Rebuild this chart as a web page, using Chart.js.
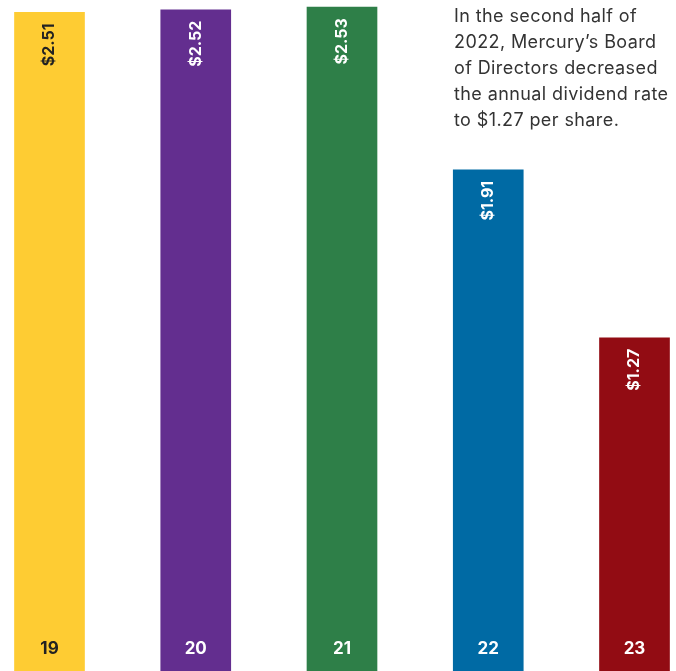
<!DOCTYPE html>
<html>
<head>
<meta charset="utf-8">
<script src="https://cdn.jsdelivr.net/npm/chart.js@4"></script>
<style>
  html, body { margin: 0; padding: 0; background: #fff; }
  .wrap { position: relative; width: 676px; height: 671px; }
  #dividendChart { position: absolute; left: 0; top: 0; }
  .note {
    position: absolute; left: 454px; top: 3px; width: 222px;
    font-family: "Inter", "Lato", sans-serif; font-size: 18px; line-height: 26px;
    color: #333; letter-spacing: 0.4px; white-space: nowrap;
  }
</style>
</head>
<body>
<div class="wrap">
  <canvas id="dividendChart" width="676" height="671"></canvas>
  <div class="note">In the second half of<br>2022, Mercury’s Board<br>of Directors decreased<br>the annual dividend rate<br>to $1.27 per share.</div>
</div>
<script>
const years = ['19', '20', '21', '22', '23'];
const dividends = [2.51, 2.52, 2.53, 1.91, 1.27];
const barColors = ['#FECC33', '#632E8F', '#2E7F48', '#006AA4', '#920C13'];
const textColors = ['#222222', '#ffffff', '#ffffff', '#ffffff', '#ffffff'];

const barLabels = {
  id: 'barLabels',
  afterDatasetsDraw(chart) {
    const ctx = chart.ctx;
    const meta = chart.getDatasetMeta(0);
    meta.data.forEach(function(bar, i) {
      ctx.save();
      ctx.fillStyle = textColors[i];
      // value, rotated, near the top of the bar
      ctx.translate(bar.x, bar.y + 11);
      ctx.rotate(-Math.PI / 2);
      ctx.font = 'bold 16px Inter, sans-serif';
      ctx.textAlign = 'right';
      ctx.textBaseline = 'middle';
      ctx.fillText('$' + dividends[i].toFixed(2), 0, 0);
      ctx.restore();

      // year at the foot of the bar
      ctx.save();
      ctx.fillStyle = textColors[i];
      ctx.font = 'bold 17px Inter, sans-serif';
      ctx.textAlign = 'center';
      ctx.textBaseline = 'middle';
      ctx.fillText(years[i], bar.x, 649);
      ctx.restore();
    });
  }
};

new Chart(document.getElementById('dividendChart'), {
  type: 'bar',
  data: {
    labels: years,
    datasets: [{
      data: dividends,
      backgroundColor: barColors,
      barThickness: 70,
      borderWidth: 0,
      clip: false
    }]
  },
  options: {
    responsive: false,
    animation: false,
    layout: { padding: { left: 49.5, right: 41.5, top: 0, bottom: 0 } },
    plugins: { legend: { display: false }, tooltip: { enabled: false } },
    scales: {
      x: { display: false, offset: false },
      y: { display: false, min: 0, max: 2.557 }
    }
  },
  plugins: [barLabels]
});
</script>
</body>
</html>
